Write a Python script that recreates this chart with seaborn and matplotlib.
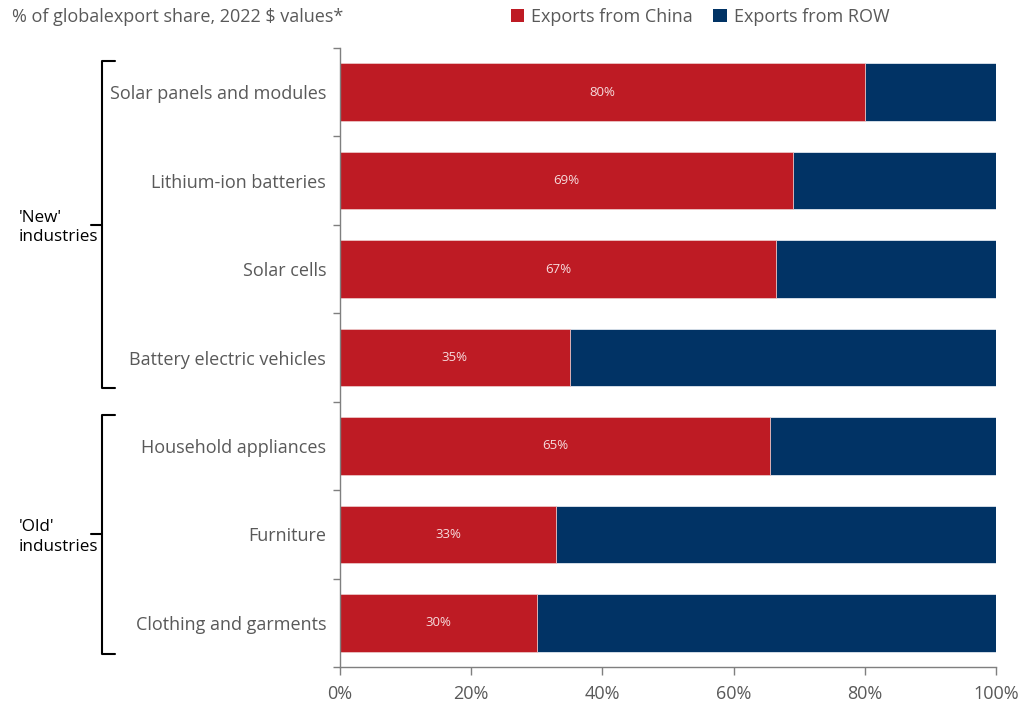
import matplotlib
matplotlib.use("Agg")
import matplotlib.pyplot as plt
import matplotlib.transforms as mtransforms
from matplotlib.patches import Patch
from matplotlib.ticker import FuncFormatter, FixedLocator
import seaborn as sns
import pandas as pd

categories = ["Solar panels and modules", "Lithium-ion batteries", "Solar cells",
              "Battery electric vehicles", "Household appliances", "Furniture",
              "Clothing and garments"]
china_share = [80, 69, 66.5, 35, 65.5, 33, 30]
china_labels = ["80%", "69%", "67%", "35%", "65%", "33%", "30%"]
total_share = [100, 100, 100, 100, 100, 100, 100]
series_names = ["Exports from China", "Exports from ROW"]
groups = [("'New'\nindustries", 0, 3), ("'Old'\nindustries", 4, 6)]
x_ticks = [0, 20, 40, 60, 80, 100]
subtitle = "% of globalexport share, 2022 $ values*"

RED = "#BE1B24"
NAVY = "#013365"
GREY = "#595959"

sns.set_theme(style="white")
plt.rcParams["font.family"] = ["Open Sans", "DejaVu Sans"]

df = pd.DataFrame({"cat": categories, "china": china_share, "total": total_share})

fig = plt.figure(figsize=(10.22, 7.04), dpi=100)
ax = fig.add_axes([340 / 1022, 1 - 667 / 704, 656 / 1022, 619 / 704])

sns.barplot(data=df, x="total", y="cat", orient="h", color=NAVY, width=0.65,
            saturation=1, edgecolor="#dfe6ef", linewidth=0.6, ax=ax)
sns.barplot(data=df, x="china", y="cat", orient="h", color=RED, width=0.65,
            saturation=1, edgecolor="#f0c8c8", linewidth=0.6, ax=ax)

ax.bar_label(ax.containers[1], labels=china_labels, label_type="center",
             color="#F6DCDD", fontsize=9.5)

ax.set_xlim(0, 100)
ax.set_ylim(len(categories) - 0.5, -0.5)
ax.set_xlabel("")
ax.set_ylabel("")
ax.xaxis.set_major_locator(FixedLocator(x_ticks))
ax.xaxis.set_major_formatter(FuncFormatter(lambda v, p: f"{v:.0f}%"))
ax.tick_params(axis="x", which="major", bottom=True, direction="out", length=6, width=1,
               color="#7f7f7f", labelsize=13, labelcolor=GREY, pad=7)
ax.set_yticks(range(len(categories)))
ax.set_yticklabels(categories)
ax.tick_params(axis="y", which="major", left=False, length=0, labelsize=13,
               labelcolor=GREY, pad=10)
ax.yaxis.set_minor_locator(FixedLocator([i - 0.5 for i in range(len(categories) + 1)]))
ax.tick_params(axis="y", which="minor", left=True, direction="out", length=5, width=1,
               color="#7f7f7f")

for s in ["top", "right"]:
    ax.spines[s].set_visible(False)
for s in ["left", "bottom"]:
    ax.spines[s].set_color("#7f7f7f")
    ax.spines[s].set_linewidth(1)

# Group brackets
trans = mtransforms.blended_transform_factory(fig.transFigure, ax.transData)
bx = 102 / 1022
hook = 13 / 1022
nub = 11 / 1022
for label, i0, i1 in groups:
    y0 = i0 - 0.35
    y1 = i1 + 0.35
    ym = (y0 + y1) / 2
    ax.plot([bx + hook, bx, bx, bx + hook], [y0, y0, y1, y1], color="black",
            lw=1.5, transform=trans, clip_on=False, solid_joinstyle="round")
    ax.plot([bx, bx - nub], [ym, ym], color="black", lw=1.5, transform=trans,
            clip_on=False)
    ax.text(19 / 1022, ym + 0.03, label, transform=trans, ha="left", va="center",
            fontsize=12.3, color="black", linespacing=1.3)

fig.text(12 / 1022, 1 - 17 / 704, subtitle, ha="left", va="center",
         fontsize=13, color=GREY)

handles = [Patch(facecolor=RED, edgecolor="none"), Patch(facecolor=NAVY, edgecolor="none")]
fig.legend(handles, series_names, loc="center", bbox_to_anchor=(700 / 1022, 1 - 17 / 704),
           ncol=2, frameon=False, fontsize=13, labelcolor=GREY, handlelength=0.75,
           handleheight=0.75, handletextpad=0.4, columnspacing=1.1)

fig.savefig("out.png", dpi=100)
